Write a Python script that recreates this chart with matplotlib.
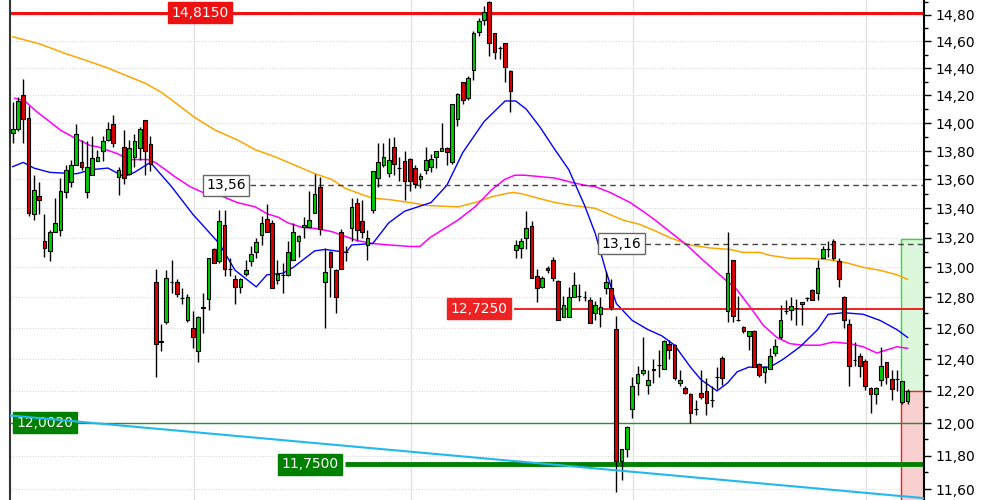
import numpy as np
import matplotlib
matplotlib.use("Agg")
import matplotlib.pyplot as plt
from matplotlib.ticker import FixedLocator, NullFormatter, FuncFormatter

# candle data (one row = 10 candles)
opens = [13.93, 13.96, 14.20, 14.04, 13.36, 13.485, 13.18, 13.11, 13.24, 13.25,
         13.51, 13.58, 13.70, 13.72, 13.51, 13.63, 13.73, 13.80, 13.88, 13.99,
         13.62, 13.83, 13.64, 13.76, 13.82, 14.02, 13.85, 12.90, 12.51, 12.64,
         12.90, 12.90, 12.795, 12.65, 12.60, 12.45, 12.73, 12.79, 13.12, 13.04,
         13.285, 12.99, 12.92, 12.87, 12.955, 13.04, 13.10, 13.22, 13.33, 13.30,
         12.915, 12.95, 12.95, 13.05, 13.18, 13.27, 13.27, 13.37, 13.55, 12.90,
         13.10, 12.98, 13.24, 13.10, 13.265, 13.44, 13.31, 13.15, 13.39, 13.61,
         13.70, 13.645, 13.83, 13.68, 13.73, 13.745, 13.68, 13.60, 13.665, 13.69,
         13.76, 13.80, 13.82, 13.72, 14.03, 14.30, 14.18, 14.39, 14.67, 14.76,
         14.90, 14.66, 14.55, 14.585, 14.38, 13.115, 13.13, 13.20, 13.28, 12.94,
         12.87, 12.995, 13.05, 12.91, 12.675, 12.67, 12.80, 12.81, 12.805, 12.785,
         12.70, 12.695, 12.86, 12.86, 12.595, 11.77, 11.84, 12.085, 12.25, 12.31,
         12.24, 12.33, 12.365, 12.34, 12.50, 12.49, 12.25, 12.22, 12.18, 12.085,
         12.185, 12.20, 12.144, 12.29, 12.41, 12.71, 13.05, 12.655, 12.61, 12.55,
         12.58, 12.37, 12.32, 12.34, 12.44, 12.545, 12.71, 12.72, 12.73, 12.755,
         12.795, 12.85, 12.83, 13.06, 13.12, 13.18, 13.04, 12.80, 12.625, 12.395,
         12.42, 12.39, 12.22, 12.18, 12.27, 12.38, 12.275, 12.275, 12.13, 12.14]
highs = [14.155, 14.19, 14.32, 14.12, 13.63, 13.58, 13.36, 13.25, 13.47, 13.61,
         13.70, 13.74, 13.99, 13.88, 13.87, 13.91, 13.81, 13.91, 14.01, 14.06,
         13.69, 13.95, 13.88, 13.92, 13.97, 14.02, 13.91, 12.99, 12.63, 12.98,
         13.05, 12.92, 12.86, 12.82, 12.71, 12.68, 12.83, 13.06, 13.13, 13.39,
         13.39, 13.06, 12.95, 12.93, 13.05, 13.14, 13.20, 13.35, 13.43, 13.32,
         13.05, 13.03, 13.18, 13.30, 13.22, 13.34, 13.52, 13.64, 13.62, 13.13,
         13.11, 12.99, 13.26, 13.14, 13.47, 13.47, 13.46, 13.25, 13.66, 13.86,
         13.86, 13.89, 13.90, 13.76, 13.80, 13.75, 13.70, 13.645, 13.83, 13.78,
         13.80, 14.00, 13.83, 14.14, 14.215, 14.30, 14.34, 14.675, 14.775, 14.865,
         14.91, 14.665, 14.565, 14.585, 14.385, 13.184, 13.195, 13.38, 13.31, 12.99,
         12.94, 13.01, 13.07, 12.915, 12.81, 12.87, 12.97, 12.89, 12.84, 12.805,
         12.78, 12.80, 12.97, 12.92, 12.68, 11.84, 11.98, 12.29, 12.36, 12.545,
         12.33, 12.40, 12.46, 12.525, 12.525, 12.50, 12.33, 12.23, 12.185, 12.144,
         12.33, 12.28, 12.23, 12.35, 12.42, 13.24, 13.05, 12.81, 12.615, 12.58,
         12.585, 12.375, 12.355, 12.47, 12.53, 12.75, 12.785, 12.80, 12.79, 12.77,
         12.80, 12.855, 13.05, 13.14, 13.18, 13.19, 13.06, 12.81, 12.66, 12.51,
         12.44, 12.40, 12.225, 12.225, 12.48, 12.385, 12.33, 12.33, 12.26, 12.21]
lows = [13.856, 13.94, 13.86, 13.35, 13.32, 13.36, 13.07, 13.04, 13.24, 13.21,
        13.47, 13.55, 13.70, 13.67, 13.47, 13.63, 13.73, 13.73, 13.87, 13.83,
        13.49, 13.57, 13.63, 13.69, 13.74, 13.63, 13.66, 12.29, 12.45, 12.63,
        12.83, 12.80, 12.76, 12.64, 12.47, 12.38, 12.57, 12.72, 13.03, 13.03,
        12.94, 12.94, 12.76, 12.83, 12.94, 13.01, 13.06, 13.15, 13.24, 12.86,
        12.89, 12.83, 12.94, 13.05, 13.07, 13.20, 13.27, 13.37, 13.22, 12.60,
        12.80, 12.70, 12.99, 13.04, 13.18, 13.18, 13.20, 13.05, 13.37, 13.55,
        13.69, 13.62, 13.63, 13.59, 13.46, 13.52, 13.54, 13.54, 13.64, 13.65,
        13.68, 13.80, 13.70, 13.71, 13.98, 14.14, 14.165, 14.31, 14.64, 14.725,
        14.49, 14.465, 14.465, 14.30, 14.08, 13.06, 13.06, 13.12, 12.93, 12.77,
        12.86, 12.96, 12.91, 12.65, 12.67, 12.67, 12.80, 12.78, 12.78, 12.635,
        12.655, 12.61, 12.82, 12.72, 11.585, 11.655, 11.79, 12.03, 12.175, 12.30,
        12.18, 12.25, 12.29, 12.34, 12.40, 12.27, 12.23, 12.18, 12.00, 12.05,
        12.15, 12.05, 12.10, 12.21, 12.24, 12.64, 12.64, 12.645, 12.57, 12.46,
        12.35, 12.29, 12.25, 12.34, 12.42, 12.53, 12.69, 12.655, 12.62, 12.62,
        12.78, 12.785, 12.785, 13.06, 13.07, 13.05, 12.87, 12.60, 12.23, 12.355,
        12.29, 12.205, 12.065, 12.12, 12.23, 12.245, 12.145, 12.20, 12.12, 12.12]
closes = [13.96, 14.16, 14.03, 13.37, 13.53, 13.46, 13.13, 13.24, 13.30, 13.52,
          13.67, 13.70, 13.92, 13.685, 13.685, 13.75, 13.76, 13.87, 13.96, 13.86,
          13.67, 13.61, 13.82, 13.87, 13.96, 13.80, 13.71, 12.50, 12.515, 12.93,
          12.905, 12.82, 12.795, 12.80, 12.545, 12.675, 12.735, 13.06, 13.03, 13.31,
          12.99, 12.99, 12.87, 12.92, 12.98, 13.09, 13.17, 13.30, 13.24, 12.86,
          12.955, 12.95, 13.10, 13.24, 13.21, 13.285, 13.32, 13.50, 13.26, 12.97,
          13.00, 12.80, 12.99, 13.10, 13.41, 13.25, 13.24, 13.20, 13.66, 13.72,
          13.76, 13.74, 13.71, 13.68, 13.59, 13.59, 13.57, 13.625, 13.737, 13.745,
          13.80, 13.82, 13.795, 14.14, 14.21, 14.17, 14.33, 14.66, 14.755, 14.82,
          14.59, 14.52, 14.55, 14.41, 14.23, 13.15, 13.18, 13.265, 12.93, 12.86,
          12.93, 12.98, 12.93, 12.655, 12.75, 12.80, 12.88, 12.81, 12.805, 12.635,
          12.75, 12.74, 12.90, 12.735, 11.77, 11.84, 11.977, 12.23, 12.305, 12.33,
          12.27, 12.34, 12.365, 12.52, 12.46, 12.28, 12.27, 12.19, 12.06, 12.085,
          12.165, 12.125, 12.144, 12.29, 12.28, 12.965, 12.68, 12.655, 12.58, 12.58,
          12.35, 12.30, 12.35, 12.42, 12.485, 12.65, 12.71, 12.745, 12.73, 12.77,
          12.795, 12.785, 12.995, 13.12, 13.12, 13.06, 12.92, 12.65, 12.36, 12.395,
          12.355, 12.23, 12.18, 12.22, 12.36, 12.29, 12.215, 12.275, 12.26, 12.20]

# moving averages, sampled at candle positions
ma_fast_x = [0, 2, 4, 7, 12, 15, 18, 21, 23, 26, 30, 34, 39, 42, 46, 48, 51, 53, 57, 59,
             63, 64, 68, 71, 74, 79, 82, 85, 89, 93, 95, 97, 99.6, 102.4, 105, 108, 110,
             112, 114, 117, 120, 122.6, 125, 128, 130, 133, 135, 136.8, 139, 143, 145.5,
             148.7, 152, 154, 157, 160.6, 163.8, 167, 169]
ma_fast = [13.69, 13.72, 13.68, 13.65, 13.64, 13.67, 13.68, 13.62, 13.65, 13.72, 13.55,
           13.36, 13.16, 12.98, 12.87, 12.95, 12.96, 13.00, 13.11, 13.12, 13.10, 13.15,
           13.16, 13.30, 13.38, 13.44, 13.56, 13.79, 14.01, 14.16, 14.16, 14.10, 13.97,
           13.81, 13.67, 13.42, 13.23, 12.98, 12.76, 12.65, 12.59, 12.55, 12.49, 12.35,
           12.27, 12.20, 12.25, 12.32, 12.35, 12.35, 12.40, 12.48, 12.59, 12.69, 12.70,
           12.69, 12.65, 12.59, 12.54]
ma_mid_x = [0.4, 2.3, 4.6, 7, 9, 11.4, 14.6, 16.1, 19.9, 21.8, 25.5, 26.9, 28.8, 30.6,
            33.5, 35.9, 39.1, 42.4, 45.8, 48.2, 50.1, 52, 54.6, 57.6, 60.3, 62.7, 65, 68,
            71.2, 75, 76.9, 78.8, 84.1, 87.3, 90.5, 92.9, 94.8, 96.7, 102.4, 105.6, 108,
            110, 112.8, 116.6, 119.4, 121.3, 124.1, 127.3, 130.3, 133.5, 136.8, 139.2,
            141.1, 141.7, 144.3, 146.8, 149.2, 152.4, 154.9, 158.1, 160.6, 163.2, 165.1,
            167, 169]
ma_mid = [14.18, 14.16, 14.08, 14.01, 13.95, 13.90, 13.84, 13.83, 13.78, 13.74, 13.74,
          13.72, 13.67, 13.62, 13.55, 13.51, 13.49, 13.44, 13.41, 13.36, 13.34, 13.30,
          13.27, 13.26, 13.24, 13.21, 13.18, 13.16, 13.15, 13.14, 13.14, 13.20, 13.32,
          13.41, 13.53, 13.60, 13.63, 13.63, 13.61, 13.58, 13.56, 13.55, 13.51, 13.44,
          13.37, 13.32, 13.24, 13.15, 13.05, 12.95, 12.85, 12.74, 12.65, 12.62, 12.54,
          12.50, 12.49, 12.49, 12.51, 12.50, 12.48, 12.44, 12.46, 12.48, 12.47]
ma_slow_x = [0, 5.2, 9.9, 13.7, 17.4, 21.2, 25, 28.2, 30.6, 34.4, 38.2, 42.4, 45.8, 49.5,
             53.3, 57.1, 60.3, 62.7, 65.6, 68, 71.2, 75, 78.2, 84.1, 87.3, 90.5, 92.9,
             94.5, 96.2, 99.2, 102.4, 105.6, 108, 110, 115.2, 118.4, 121.7, 124.1, 127.9,
             131.7, 135.4, 137.9, 141.1, 143, 146.8, 150.5, 154.3, 157.5, 160.6, 163.8,
             167, 169]
ma_slow = [14.635, 14.58, 14.51, 14.46, 14.41, 14.35, 14.29, 14.22, 14.15, 14.04, 13.95,
           13.88, 13.81, 13.76, 13.70, 13.64, 13.60, 13.54, 13.50, 13.47, 13.46, 13.44,
           13.42, 13.41, 13.44, 13.48, 13.50, 13.51, 13.50, 13.47, 13.44, 13.42, 13.41,
           13.40, 13.32, 13.29, 13.24, 13.20, 13.15, 13.13, 13.12, 13.10, 13.10, 13.08,
           13.06, 13.06, 13.05, 13.03, 13.00, 12.98, 12.95, 12.92]

# trend line and levels
trend_x = [-0.5, 172.1]
trend_y = [12.047, 11.546]
level_top = 14.815
level_res = 12.725
level_sup = 12.002
level_low = 11.75
dash_1 = 13.56
dash_2 = 13.16
target_hi = 13.19
target_mid = 12.20

y_ticks = [11.6, 11.8, 12.0, 12.2, 12.4, 12.6, 12.8, 13.0, 13.2, 13.4, 13.6, 13.8,
           14.0, 14.2, 14.4, 14.6, 14.8]

fig = plt.figure(figsize=(10, 5), dpi=100)
fig.patch.set_facecolor("white")
ax = fig.add_axes([0.010, 0.0, 0.914, 1.0])
ax.set_yscale("log")
ax.set_ylim(11.535, 14.914)
ax.set_xlim(-0.51, 172.1)

# grid
for v in y_ticks:
    ax.axhline(v, color="#d8d8d8", lw=0.8, ls=(0, (1, 1.5)), zorder=0)
for gx in [34.2, 75.2, 117.1, 161.1]:
    ax.axvline(gx, color="#e2e2e2", lw=1, zorder=0)

# target boxes
ax.fill_between([167.75, 171.95], target_mid, target_hi, color="#dcf8dc", zorder=1)
ax.plot([167.75, 167.75, 171.95], [target_mid, target_hi, target_hi], color="#33dd33", lw=1, zorder=1.5)
ax.fill_between([167.75, 171.95], 11.4, target_mid, color="#f8d0d0", zorder=1)
ax.plot([167.75, 167.75, 171.95], [11.4, target_mid, target_mid], color="#ee2222", lw=1, zorder=1.5)

# moving averages
ax.plot(ma_slow_x, ma_slow, color="#ffa500", lw=1.1, zorder=2)
ax.plot(ma_mid_x, ma_mid, color="#ff00ff", lw=1.1, zorder=2)
ax.plot(ma_fast_x, ma_fast, color="#0000ff", lw=1.0, zorder=2)

# horizontal levels
ax.axhline(level_top, color="#ee1111", lw=2.2, zorder=2.5)
ax.hlines(level_res, 94.7, 172.1, color="#ee2222", lw=1.4, zorder=2.5)
ax.axhline(level_sup, color="#2e8b2e", lw=1.0, zorder=2.5)
ax.hlines(level_low, 62.7, 172.1, color="#008000", lw=3.5, zorder=2.5)
ax.hlines(dash_1, 44.8, 172.1, color="#444444", lw=1, ls=(0, (4, 3)), zorder=2.5)
ax.hlines(dash_2, 119.4, 172.1, color="#444444", lw=1, ls=(0, (4, 3)), zorder=2.5)

# candles
o = np.array(opens)
c = np.array(closes)
xs = np.arange(len(o))
cols = np.where(c > o, "#00cc00", np.where(c < o, "#dd0000", "black"))
ax.vlines(xs, lows, highs, color="black", lw=1, zorder=3)
ax.bar(xs, np.abs(c - o), bottom=np.minimum(o, c), width=0.7, color=cols,
       edgecolor="black", linewidth=0.8, zorder=4)

# trend line
ax.plot(trend_x, trend_y, color="#22b8ee", lw=1.5, zorder=7)


def tag(x, y, s, fc, ec, tc):
    ax.text(x, y, s, ha="center", va="center", color=tc, fontsize=10, zorder=6,
            bbox=dict(boxstyle="square,pad=0.25", fc=fc, ec=ec, lw=1))


tag(35.4, level_top, "14,8150", "#ee1111", "#ee1111", "white")
tag(88.0, level_res, "12,7250", "#ee2222", "#ee2222", "white")
tag(6.1, level_sup, "12,0020", "#008000", "#008000", "white")
tag(56.1, level_low, "11,7500", "#008000", "#008000", "white")
tag(40.3, dash_1, "13,56", "white", "#666666", "black")
tag(115.0, dash_2, "13,16", "white", "#666666", "black")

# axes styling
ax.set_facecolor("white")
ax.spines["top"].set_visible(False)
ax.spines["bottom"].set_visible(False)
ax.spines["left"].set_color("#333333")
ax.spines["left"].set_linewidth(1.5)
ax.spines["right"].set_color("black")
ax.spines["right"].set_linewidth(1.5)
ax.set_xticks([])
ax.yaxis.tick_right()
ax.yaxis.set_major_locator(FixedLocator(y_ticks))
ax.yaxis.set_minor_locator(FixedLocator([v + 0.1 for v in y_ticks]))
ax.yaxis.set_major_formatter(FuncFormatter(lambda v, p: f"{v:.2f}".replace(".", ",")))
ax.yaxis.set_minor_formatter(NullFormatter())
ax.tick_params(axis="y", which="major", length=5, width=1, labelsize=10, pad=3)
ax.tick_params(axis="y", which="minor", length=3, width=1)

plt.savefig("out.png", dpi=100)
